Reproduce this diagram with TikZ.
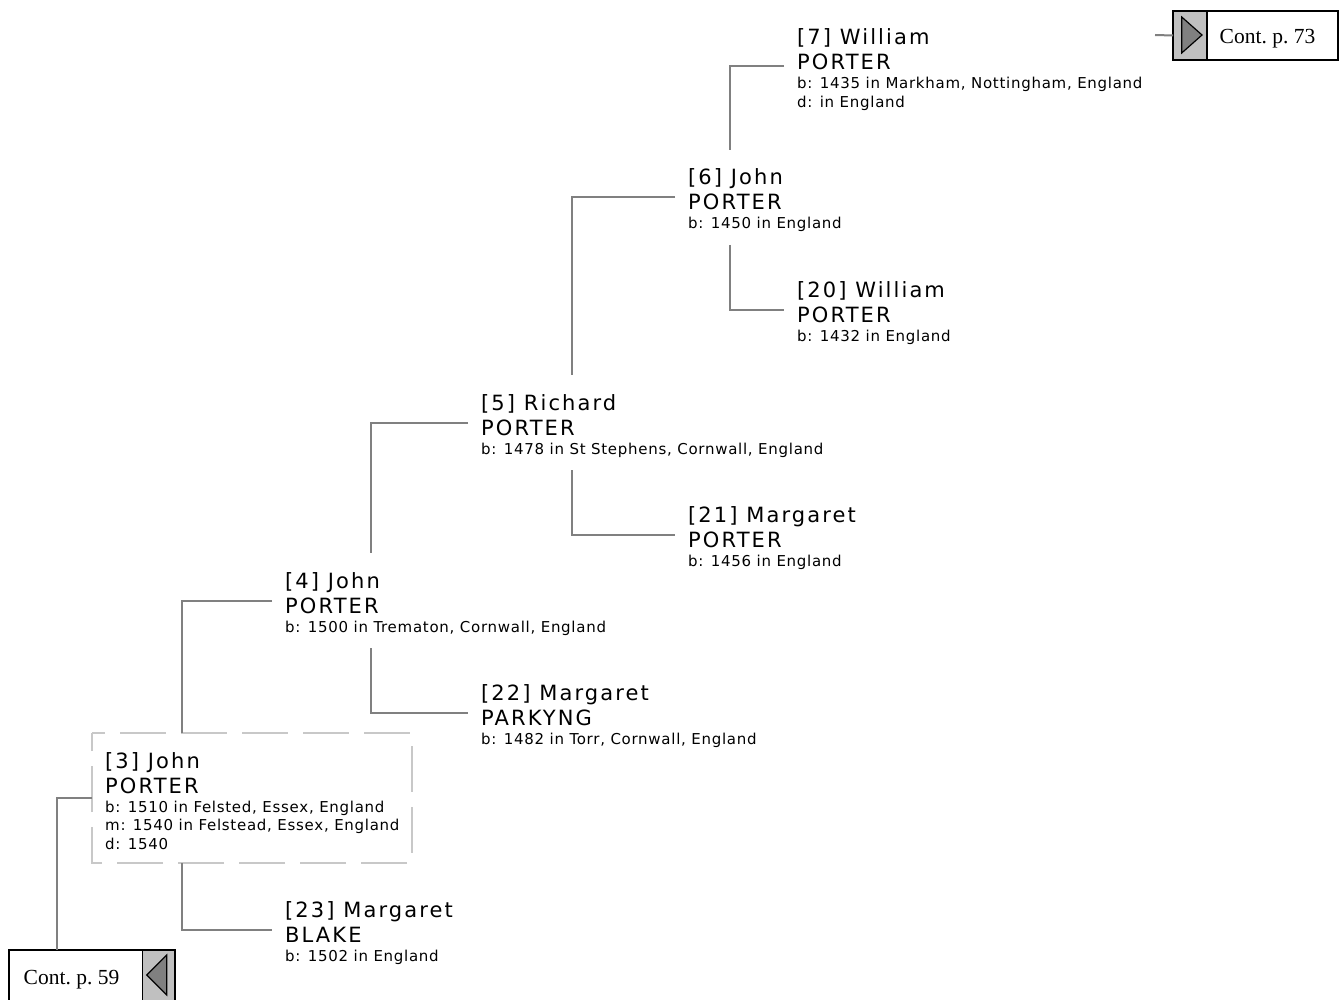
\documentclass[tikz,border=0pt]{standalone}
\usepackage{fontspec}
\newfontfamily\nmfont{DejaVu Sans}[LetterSpace=10]
\newfontfamily\dtfont{DejaVu Sans}[LetterSpace=4.8]
\newfontfamily\cfont{Liberation Serif}
\definecolor{lnc}{RGB}{128,128,128}
\definecolor{dsh}{RGB}{200,200,200}
\definecolor{gsq}{RGB}{192,192,192}
\definecolor{gtri}{RGB}{128,128,128}
\tikzset{
 pbox/.style={draw=none, rectangle, anchor=north west, minimum width=320pt, inner sep=0pt, outer sep=0pt},
 dashbox/.style={draw=dsh, line width=1.5pt, dash pattern=on 46pt off 15pt, dash phase=33pt},
 nm/.style={anchor=base west, inner sep=0pt, font=\nmfont\fontsize{21}{24}\selectfont},
 dt/.style={anchor=base west, inner sep=0pt, font=\dtfont\fontsize{15}{18}\selectfont},
 conn/.style={draw=lnc, line width=2pt},
 contbox/.style={draw=black, line width=2pt, fill=white, rectangle, anchor=north west, inner sep=0pt, outer sep=0pt},
 graysq/.style={draw=black, line width=1.2pt, fill=gsq, rectangle, inner sep=0pt, outer sep=0pt},
 tri/.style={draw=black, line width=1.2pt, fill=gtri, line join=miter},
 conttext/.style={anchor=base west, inner sep=0pt, font=\cfont\fontsize{21.5}{24}\selectfont},
}
\newcommand\pname[3]{%
 \node[nm] (#1a) at ([shift={(13,35)}]#1.north west) {#2};
 \node[nm] (#1b) at ([shift={(13,60)}]#1.north west) {#3};}
\newcommand\pdet[4]{%
 \node[dt] (#1d#2) at ([shift={(13,#3)}]#1.north west) {#4};}
\begin{document}
\begin{tikzpicture}[x=1pt,y=-1pt]
\useasboundingbox (0,0) rectangle (1340,1000);
% person boxes
\node[pbox, minimum height=112.5pt] (p7) at (784,10) {};
\node[pbox, minimum height=95pt] (p6) at (675,150) {};
\node[pbox, minimum height=95pt] (p20) at (784,262.5) {};
\node[pbox, minimum height=95pt] (p5) at (468,375) {};
\node[pbox, minimum height=95pt] (p21) at (675,487.5) {};
\node[pbox, minimum height=95pt] (p4) at (272,553) {};
\node[pbox, minimum height=95pt] (p22) at (468,665.5) {};
\node[pbox, minimum height=130pt] (p3) at (92,733) {};
\draw[dashbox] (p3.north west) -- (p3.north east) -- (p3.south east) -- (p3.south west) -- cycle;
\node[pbox, minimum height=95pt] (p23) at (272,882.5) {};
% texts
\pname{p7}{[7] William}{PORTER}
\pdet{p7}{1}{79}{b: 1435 in Markham, Nottingham, England}
\pdet{p7}{2}{97.5}{d: in England}
\pname{p6}{[6] John}{PORTER}
\pdet{p6}{1}{79}{b: 1450 in England}
\pname{p20}{[20] William}{PORTER}
\pdet{p20}{1}{79}{b: 1432 in England}
\pname{p5}{[5] Richard}{PORTER}
\pdet{p5}{1}{79}{b: 1478 in St Stephens, Cornwall, England}
\pname{p21}{[21] Margaret}{PORTER}
\pdet{p21}{1}{79}{b: 1456 in England}
\pname{p4}{[4] John}{PORTER}
\pdet{p4}{1}{79}{b: 1500 in Trematon, Cornwall, England}
\pname{p22}{[22] Margaret}{PARKYNG}
\pdet{p22}{1}{79}{b: 1482 in Torr, Cornwall, England}
\pname{p3}{[3] John}{PORTER}
\pdet{p3}{1}{79}{b: 1510 in Felsted, Essex, England}
\pdet{p3}{2}{97.5}{m: 1540 in Felstead, Essex, England}
\pdet{p3}{3}{116}{d: 1540}
\pname{p23}{[23] Margaret}{BLAKE}
\pdet{p23}{1}{79}{b: 1502 in England}
% continuation boxes
\node[contbox, minimum width=165pt, minimum height=49pt] (c73) at (1173,11) {};
\node[graysq, anchor=north west, minimum width=34pt, minimum height=49pt] (g73) at (c73.north west) {};
\draw[tri] (1181.7,17) -- (1181.7,53) -- (1202,35) -- cycle;
\draw[line width=2pt] (c73.north west) rectangle (c73.south east);
\node[conttext] (t73) at (1219.5,43.3) {Cont.\ p.\ 73};
\node[contbox, minimum width=166pt, minimum height=52pt] (c59) at (9,950) {};
\node[graysq, anchor=north east, minimum width=32.5pt, minimum height=52pt] (g59) at (c59.north east) {};
\draw[tri] (166.7,955) -- (166.7,995) -- (146.7,975) -- cycle;
\draw[line width=2pt] (c59.north west) rectangle (c59.south east);
\node[conttext] (t59) at (23.5,984.3) {Cont.\ p.\ 59};
\coordinate (s73) at (1155,35);
% connectors
\draw[conn] (p7.west) -| ([xshift=55pt]p6.north west);
\draw[conn] ([xshift=55pt]p6.south west) |- (p20.west);
\draw[conn] (p6.west) -| ([xshift=104pt]p5.north west);
\draw[conn] ([xshift=104pt]p5.south west) |- (p21.west);
\draw[conn] (p5.west) -| ([xshift=99pt]p4.north west);
\draw[conn] ([xshift=99pt]p4.south west) |- (p22.west);
\draw[conn] (p4.west) -| ([xshift=90pt]p3.north west);
\draw[conn] ([xshift=90pt]p3.south west) |- (p23.west);
\draw[conn] (p3.west) -| ([xshift=48pt]c59.north west);
\draw[conn] (c73.west) -- (s73);
\end{tikzpicture}
\end{document}
